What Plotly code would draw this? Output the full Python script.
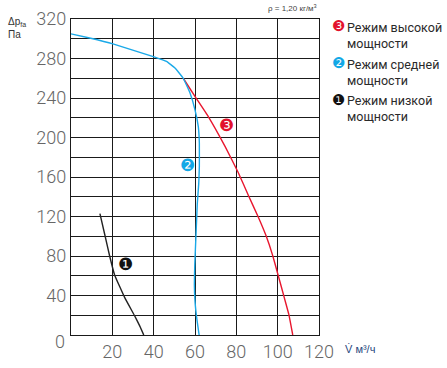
import plotly.graph_objects as go

x_ticks = [20, 40, 60, 80, 100, 120]
y_ticks = [40, 80, 120, 160, 200, 240, 280, 320]

blue_x = [0, 9, 20.3, 40.2, 46.2, 50.3, 54.3, 57.6, 60, 61.6, 62.1, 62.1, 61.8, 61.1, 60.5, 59.9, 59.7, 60, 60.8, 62]
blue_y = [305, 300.8, 294.8, 281.6, 277, 270.4, 260, 245, 228, 211, 194.5, 170.5, 153, 132.6, 102, 71.6, 51.3, 34.3, 17.5, 0]
red_x = [54.3, 60.3, 66.5, 74.6, 80.9, 85.9, 90.5, 94.4, 97.6, 100.2, 103.2, 105.4, 107.3]
red_y = [260, 240.6, 221, 190.8, 164.6, 141, 120, 100.4, 80.4, 60.8, 37.8, 20.8, 0]
black_x = [14, 16.3, 18.7, 21.1, 26, 30.9, 33.3, 35.2]
black_y = [123, 102, 80, 60.8, 37.8, 19, 9, 0]

legend_labels = [
    ("❸", "#e2122d", "Режим высокой<br>мощности"),
    ("❷", "#12a8e6", "Режим средней<br>мощности"),
    ("❶", "#111111", "Режим низкой<br>мощности"),
]
curve_tags = [("❸", "#e2122d", 75, 213), ("❷", "#12a8e6", 56.5, 172), ("❶", "#111111", 26.5, 72)]

GRID = "#1a1a1a"
TICK = "#666666"
fig = go.Figure()
for xs, ys, col in [(red_x, red_y, "#e8162e"), (blue_x, blue_y, "#1aa9e8"), (black_x, black_y, "#222222")]:
    fig.add_trace(go.Scatter(x=xs, y=ys, mode="lines", line=dict(color=col, width=1.4, shape="spline", smoothing=0.3),
                             hoverinfo="skip", showlegend=False))

anns = []
for t, c, x, y in curve_tags:
    anns.append(dict(x=x, y=y, text=t, showarrow=False, font=dict(family="DejaVu Sans", size=17, color=c),
                     xref="x", yref="y"))
W, H = 248.0, 316.0
def px(v):
    return (v - 71) / W
def py(v):
    return (335 - v) / H
for i, (t, c, lab) in enumerate(legend_labels):
    y0 = 26 + i * 37
    anns.append(dict(xref="paper", yref="paper", x=px(338), y=py(y0), text=t, showarrow=False,
                     font=dict(family="DejaVu Sans", size=15, color=c), xanchor="center", yanchor="middle"))
    anns.append(dict(xref="paper", yref="paper", x=px(345), y=py(y0 + 9), text=lab, showarrow=False,
                     align="left", xanchor="left", yanchor="middle",
                     font=dict(family="Roboto", size=12.5, color="#2a2a2a")))
anns += [
    dict(xref="paper", yref="paper", x=px(6), y=py(28), text="Δp<sub>fa</sub><br>Па", showarrow=False,
         align="left", xanchor="left", yanchor="middle", font=dict(family="Liberation Sans", size=10, color="#333333")),
    dict(xref="paper", yref="paper", x=px(319), y=py(8), text="ρ = 1,20 кг/м<sup>3</sup>", showarrow=False,
         xanchor="right", yanchor="middle", font=dict(family="Liberation Sans", size=8, color="#444444")),
    dict(xref="paper", yref="paper", x=px(343), y=py(349), text="V̇ м³/ч", showarrow=False,
         xanchor="left", yanchor="middle", font=dict(family="Liberation Sans", size=11, color="#2a4a80")),
    dict(xref="paper", yref="paper", x=px(67), y=py(342), text="0", showarrow=False,
         xanchor="right", yanchor="middle", font=dict(family="Roboto", size=18, color=TICK, weight=300)),
]

fig.update_layout(
    width=447, height=368, autosize=False, margin=dict(l=71, r=128, t=19, b=33, pad=0),
    plot_bgcolor="white", paper_bgcolor="white", showlegend=False, annotations=anns,
    xaxis=dict(range=[0, 120], tickvals=x_ticks, showgrid=True, gridcolor=GRID, gridwidth=1.2, zeroline=False,
               showline=True, linecolor=GRID, linewidth=1.2, mirror=True, ticks="", automargin=False,
               tickfont=dict(family="Roboto", size=18, color=TICK, weight=300)),
    yaxis=dict(range=[0, 320], tickvals=y_ticks, showgrid=True, gridcolor=GRID, gridwidth=1.2, zeroline=False,
               showline=True, linecolor=GRID, linewidth=1.2, mirror=True, ticks="", automargin=False,
               minor=dict(dtick=20, showgrid=True, gridcolor=GRID, gridwidth=1.2),
               tickfont=dict(family="Roboto", size=18, color=TICK, weight=300)),
)
fig.write_html("out.html", config=dict(displayModeBar=False),
               post_script="document.body.style.margin='0';document.documentElement.style.overflow='hidden';")
